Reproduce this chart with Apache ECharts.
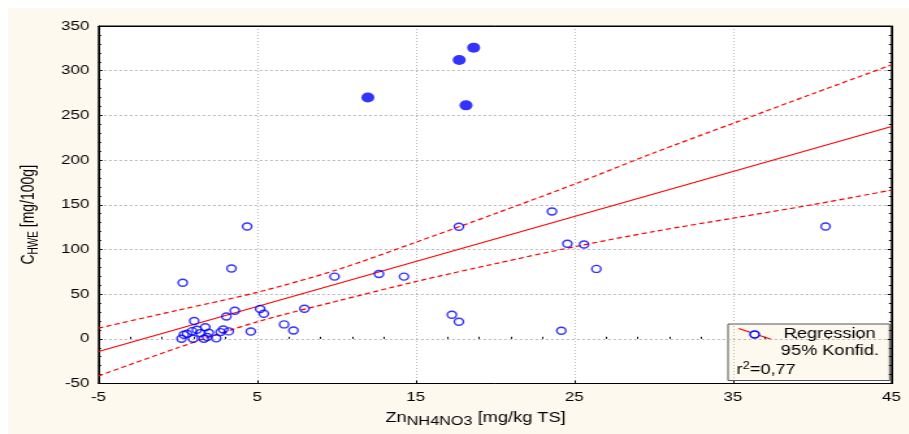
<!DOCTYPE html>
<html>
<head>
<meta charset="utf-8">
<script src="https://cdn.jsdelivr.net/npm/echarts@6/dist/echarts.min.js"></script>
<style>
  html, body { margin: 0; padding: 0; background: #ffffff; width: 909px; height: 434px; overflow: hidden; }
  #paper { position: absolute; left: 8px; top: 8px; width: 901px; height: 426px; background: #fdf9ee; }
  /* the plot is laid out narrow and widened horizontally */
  #chart { position: absolute; left: 0; top: 0; width: 699px; height: 434px; transform: scaleX(1.3); transform-origin: 0 0; }
</style>
</head>
<body>
<div id="paper"></div>
<div id="chart"></div>
<script>
// Zn (NH4NO3 extract) vs. hot-water-extractable C
const openX = [0.23, 0.38, 0.58, 0.9, 0.96, 1.03, 1.2, 1.43, 1.64, 1.73, 1.85, 1.95, 2.42, 2.69, 2.86, 3.21, 3.06, 3.59, 4.6, 5.19, 5.42, 6.7, 7.29, 7.98,
               0.31, 3.38, 4.37, 9.88, 12.68, 14.26, 17.72, 17.28, 17.72, 23.59, 24.56, 25.61, 26.39, 24.18, 40.84];
const openY = [0, 4.6, 5.7, 8.6, 0, 19.9, 10.2, 6.4, 0, 13, 2, 6.8, 0.5, 7.5, 10.5, 8.3, 25, 31.4, 8.2, 33.3, 28, 16.1, 9.3, 33.7,
               62.8, 78.6, 125.7, 69.6, 72.6, 69.6, 125.4, 26.9, 19.1, 142.5, 106.3, 105.5, 78.2, 9, 125.7];
// outliers (filled)
const filledX = [11.98, 17.74, 18.65, 18.17];
const filledY = [270, 312, 325.8, 261.2];

// regression line and 95% confidence band
const regX = [-5, 45];
const regY = [-14.3, 237.6];
const bandX = [-5, 0, 5, 10, 15, 20, 25, 30, 35, 40, 45];
const bandUpper = [12, 32, 52, 77, 108, 140, 173, 208, 241, 274, 306.5];
const bandLower = [-41.5, -10, 19, 42, 64, 84, 103, 120, 135, 150, 166.4];
const rSquared = '0,77';

// axis ticks
const xTicks = [-5, 5, 15, 25, 35, 45];
const yTicks = [-50, 0, 50, 100, 150, 200, 250, 300, 350];

const pairs = (xs, ys) => xs.map((x, i) => [x, ys[i]]);
const xMinor = [];
for (let v = xTicks[0]; v <= xTicks[xTicks.length - 1]; v += 2) {
  if (!xTicks.includes(v)) xMinor.push(v);
}

const FONT = "'Liberation Sans', Arial, sans-serif";
const BLACK = '#000000';
const grid = { left: 75.8, top: 26, width: 610, height: 357.5 };

const chart = echarts.init(document.getElementById('chart'), null, { renderer: 'canvas' });

const option = {
  animation: false,
  backgroundColor: 'transparent',
  grid: Object.assign({ show: true, backgroundColor: '#ffffff', borderColor: BLACK, borderWidth: 1 }, grid),
  xAxis: [
    {
      type: 'value', min: xTicks[0], max: xTicks[xTicks.length - 1], position: 'bottom',
      axisLine: { show: true, onZero: false, lineStyle: { color: BLACK, width: 1 } },
      axisTick: { show: true, inside: true, length: 3, customValues: xTicks, lineStyle: { color: BLACK } },
      axisLabel: { customValues: xTicks, color: BLACK, fontSize: 13, fontFamily: FONT, margin: 7 },
      splitLine: { show: true, lineStyle: { color: '#b8b8b8', width: 1, type: [1, 2] } },
      name: '{a|Zn}{s|NH4NO3}{a| [mg/kg TS]}',
      nameLocation: 'middle', nameGap: 24,
      nameTextStyle: {
        color: BLACK, fontFamily: FONT, fontSize: 14, padding: [0, 30, 0, 0],
        rich: {
          a: { color: BLACK, fontFamily: FONT, fontSize: 14 },
          s: { color: BLACK, fontFamily: FONT, fontSize: 12.5, padding: [8, 0, 0, 0] }
        }
      }
    },
    {
      type: 'value', min: xTicks[0], max: xTicks[xTicks.length - 1], position: 'bottom',
      axisLine: { show: false },
      axisTick: { show: true, inside: true, length: 2, customValues: xMinor, lineStyle: { color: BLACK } },
      axisLabel: { show: false },
      splitLine: { show: false }
    },
    {
      type: 'value', min: xTicks[0], max: xTicks[xTicks.length - 1], position: 'top',
      axisLine: { show: true, onZero: false, lineStyle: { color: BLACK, width: 1 } },
      axisTick: { show: false }, axisLabel: { show: false }, splitLine: { show: false }
    }
  ],
  yAxis: [
    {
      type: 'value', min: yTicks[0], max: yTicks[yTicks.length - 1], interval: yTicks[1] - yTicks[0], position: 'left',
      axisLine: { show: true, onZero: false, lineStyle: { color: BLACK, width: 1 } },
      axisTick: { show: true, inside: true, length: 3, lineStyle: { color: BLACK } },
      minorTick: { show: true, splitNumber: 5, length: 2, lineStyle: { color: BLACK } },
      axisLabel: { color: BLACK, fontSize: 13, fontFamily: FONT, margin: 7 },
      splitLine: { show: true, lineStyle: { color: '#b8b8b8', width: 1, type: [2, 2] } },
      name: '{a|C}{s|HWE}{a| [mg/100g]}',
      nameLocation: 'middle', nameRotate: 90, nameGap: 45,
      nameTextStyle: {
        color: BLACK, fontFamily: FONT, fontSize: 14, padding: [0, 20, 0, 0],
        rich: {
          a: { color: BLACK, fontFamily: FONT, fontSize: 14 },
          s: { color: BLACK, fontFamily: FONT, fontSize: 10, padding: [7, 0, 0, 0] }
        }
      }
    },
    {
      type: 'value', min: yTicks[0], max: yTicks[yTicks.length - 1], interval: yTicks[1] - yTicks[0], position: 'right',
      axisLine: { show: true, onZero: false, lineStyle: { color: BLACK, width: 1 } },
      axisTick: { show: true, inside: true, length: 3, lineStyle: { color: BLACK } },
      minorTick: { show: true, splitNumber: 5, length: 2, lineStyle: { color: BLACK } },
      axisLabel: { show: false }, splitLine: { show: false }
    }
  ],
  series: [
    {
      name: 'Konfid. oben', type: 'line', data: pairs(bandX, bandUpper), smooth: 0.3,
      showSymbol: false, symbol: 'none', silent: true, z: 3,
      lineStyle: { color: '#ff0000', width: 1.2, type: [4, 2.5] }
    },
    {
      name: 'Konfid. unten', type: 'line', data: pairs(bandX, bandLower), smooth: 0.3,
      showSymbol: false, symbol: 'none', silent: true, z: 3,
      lineStyle: { color: '#ff0000', width: 1.2, type: [4, 2.5] }
    },
    {
      name: 'Regression', type: 'line', data: pairs(regX, regY),
      showSymbol: false, symbol: 'none', silent: true, z: 3,
      lineStyle: { color: '#ff0000', width: 1.1 }
    },
    {
      name: 'Messwerte', type: 'scatter', data: pairs(openX, openY), symbol: 'circle', symbolSize: 7, z: 4,
      itemStyle: { color: 'rgba(0,0,0,0)', borderColor: '#0000ff', borderWidth: 1.4 }
    },
    {
      name: 'Ausreißer', type: 'scatter', data: pairs(filledX, filledY), symbol: 'circle', symbolSize: 10, z: 4,
      itemStyle: { color: '#0000ff' }
    }
  ],
  graphic: [
    {
      type: 'group', left: 559.5, top: 323.5, z: 10,
      children: [
        { type: 'rect', shape: { x: 0, y: 0, width: 124.3, height: 56.5 },
          style: { fill: '#fdf9ee', stroke: '#555555', lineWidth: 1 } },
        { type: 'line', shape: { x1: 8.2, y1: 4.5, x2: 33.6, y2: 15.5 },
          style: { stroke: '#ff0000', lineWidth: 1.2 } },
        { type: 'circle', shape: { cx: 20.5, cy: 10.5, r: 3.5 },
          style: { fill: '#ffffff', stroke: '#0000ff', lineWidth: 1.4 } },
        { type: 'text', x: 42.8, y: 10.5,
          style: { text: 'Regression', fill: BLACK, font: '14px ' + FONT, verticalAlign: 'middle' } },
        { type: 'text', x: 40.6, y: 27.2,
          style: { text: '95% Konfid.', fill: BLACK, font: '14px ' + FONT, verticalAlign: 'middle' } },
        { type: 'text', x: 6.5, y: 46.5,
          style: {
            text: '{a|r}{p|2}{a|=' + rSquared + '}', verticalAlign: 'middle',
            rich: {
              a: { fill: BLACK, fontFamily: FONT, fontSize: 14 },
              p: { fill: BLACK, fontFamily: FONT, fontSize: 10, padding: [0, 0, 8, 0] }
            }
          } }
      ]
    }
  ]
};

chart.setOption(option);
</script>
</body>
</html>
